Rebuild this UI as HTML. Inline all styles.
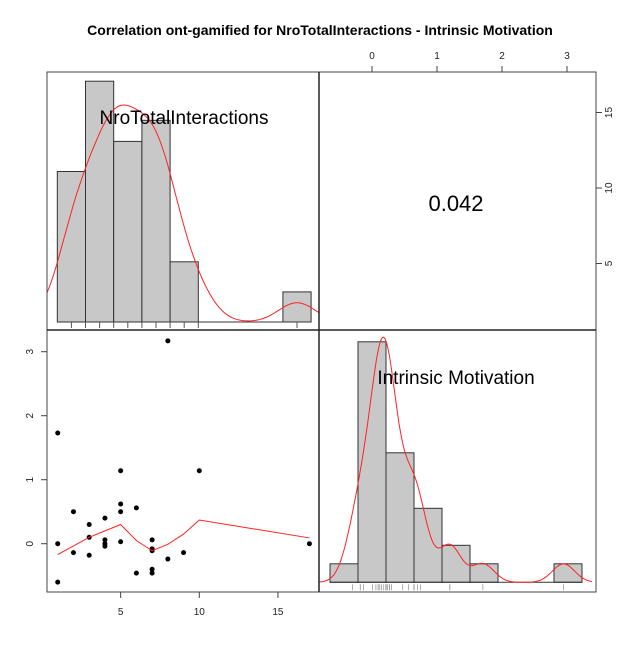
<!DOCTYPE html>
<html><head><meta charset="utf-8"><style>body{margin:0;background:#fff}svg{font-family:"Liberation Sans",Arial,sans-serif}</style></head>
<body>
<svg id="c" width="640" height="640" xmlns="http://www.w3.org/2000/svg">
<text x="320" y="35" text-anchor="middle" font-size="14" font-weight="bold">Correlation ont-gamified for NroTotalInteractions - Intrinsic Motivation</text>
</svg>
<script>
const xVals=[1,1,1,2,2,3,3,3,4,4,4,4,5,5,5,5,6,6,7,7,7,7,7,8,8,9,10,17];
const yVals=[1.73,0,-0.6,0.5,-0.14,0.3,0.1,-0.18,0.4,0.06,0,-0.04,1.14,0.62,0.5,0.03,0.56,-0.46,0.06,-0.08,-0.11,-0.4,-0.46,3.17,-0.24,-0.14,1.14,0];
const smoothX=[1,3,4,5,6,7,8,9,10,17];
const smoothY=[-0.17,0.1,0.2,0.3,0.05,-0.11,-0.01,0.15,0.37,0.09];
const histXEdges=[0,2,4,6,8,10,12,14,16,18];
const histXCounts=[5,8,6,6.7,2,0,0,0,1];
const histYEdges=[-1,-0.5,0,0.5,1,1.5,2,2.5,3,3.5];
const histYCounts=[1,13,7,4,2,1,0,0,1];
const corrText="0.042";
const xTicks=[5,10,15], yTicks=[0,1,2,3], topTicks=[0,1,2,3], rightTicks=[5,10,15];

const svg=document.getElementById('c');const NS='http://www.w3.org/2000/svg';
function mk(t,a,p){const e=document.createElementNS(NS,t);for(const k in a)e.setAttribute(k,a[k]);(p||svg).appendChild(e);return e;}
const L=47,R=596,T=72,B=592,MX=319,MY=330;
const sx=v=>42+v*15.73, sy=v=>543.7-v*64;
const hx=v=>57.3+v*14.1, hy=c=>322-c*30.1;
const rx=v=>386+v*56, ry=c=>582.3-c*18.5;
const tx=v=>372+v*65, ty=v=>339-v*15.1;
const defs=mk('defs',{});
[['cTL',L,T,MX-L,MY-T],['cBL',L,MY,MX-L,B-MY],['cBR',MX,MY,R-MX,B-MY]].forEach(c=>{const cp=mk('clipPath',{id:c[0]},defs);mk('rect',{x:c[1],y:c[2],width:c[3],height:c[4]},cp);});
function kde(data,bw,x){let s=0;for(const d of data){const u=(x-d)/bw;s+=Math.exp(-u*u/2);}return s/(data.length*bw*Math.sqrt(2*Math.PI));}
function kdePath(data,bw,lo,hi,step,px,base,peakH){const pts=[];let mx=0;for(let v=lo;v<=hi;v+=step){const k=kde(data,bw,v);pts.push([v,k]);if(k>mx)mx=k;}return pts.map((p,i)=>(i?'L':'M')+px(p[0]).toFixed(1)+','+(base-p[1]/mx*peakH).toFixed(1)).join('');}
// top-left histogram
const gTL=mk('g',{'clip-path':'url(#cTL)'});
histXCounts.forEach((c,i)=>{if(c<=0)return;const r=mk('rect',{x:hx(histXEdges[i]),y:hy(c),width:hx(histXEdges[i+1])-hx(histXEdges[i]),height:hy(0)-hy(c),fill:'#c8c8c8',stroke:'#333','stroke-width':1},gTL);});
mk('line',{x1:hx(0),x2:hx(18),y1:hy(0),y2:hy(0),stroke:'#333'},gTL);
const k1=mk('path',{d:kdePath(xVals,1.3,-1.5,19.5,0.1,hx,hy(0),217),fill:'none',stroke:'#f22','stroke-width':1},gTL);
[...new Set(xVals)].forEach(v=>{mk('line',{x1:hx(v),x2:hx(v),y1:hy(0),y2:hy(0)+6,stroke:'#555'},gTL);});
const t1=mk('text',{x:184,y:124,'text-anchor':'middle','font-size':19},gTL);t1.textContent='NroTotalInteractions';
const ct=mk('text',{x:456,y:211,'text-anchor':'middle','font-size':22});ct.textContent=corrText;
// scatter
const gBL=mk('g',{'clip-path':'url(#cBL)'});
xVals.forEach((x,i)=>{const c=mk('circle',{cx:sx(x),cy:sy(yVals[i]),r:2.5,fill:'#000'},gBL);});
const sl=mk('polyline',{points:smoothX.map((x,i)=>sx(x)+','+sy(smoothY[i])).join(' '),fill:'none',stroke:'#f22','stroke-width':1},gBL);
// bottom-right histogram
const gBR=mk('g',{'clip-path':'url(#cBR)'});
histYCounts.forEach((c,i)=>{if(c<=0)return;const r=mk('rect',{x:rx(histYEdges[i]),y:ry(c),width:rx(histYEdges[i+1])-rx(histYEdges[i]),height:ry(0)-ry(c),fill:'#c8c8c8',stroke:'#333','stroke-width':1},gBR);});
mk('line',{x1:rx(-1),x2:rx(3.5),y1:ry(0),y2:ry(0),stroke:'#333'},gBR);
const k2=mk('path',{d:kdePath(yVals,0.2,-1.2,3.7,0.02,rx,ry(0),245),fill:'none',stroke:'#f22','stroke-width':1},gBR);
yVals.forEach(v=>{mk('line',{x1:rx(v),x2:rx(v),y1:ry(0)+2,y2:ry(0)+8,stroke:'#777','stroke-width':0.6},gBR);});
const t2=mk('text',{x:456,y:384,'text-anchor':'middle','font-size':19},gBR);t2.textContent='Intrinsic Motivation';
// frames
mk('rect',{x:L,y:T,width:R-L,height:B-T,fill:'none',stroke:'#444','stroke-width':1});
mk('line',{x1:MX,x2:MX,y1:T,y2:B,stroke:'#222','stroke-width':1.5});
mk('line',{x1:L,x2:R,y1:MY,y2:MY,stroke:'#222','stroke-width':1.5});
function axText(x,y,s,rot,name){const e=mk('text',{x:x,y:y,'text-anchor':'middle','font-size':10,fill:'#222'});if(rot)e.setAttribute('transform','rotate(-90 '+x+' '+y+')');e.textContent=s;}
xTicks.forEach(v=>{mk('line',{x1:sx(v),x2:sx(v),y1:B,y2:B+6,stroke:'#444'});axText(sx(v),615,v,false,'x-tick-label');});
yTicks.forEach(v=>{mk('line',{x1:L-6,x2:L,y1:sy(v),y2:sy(v),stroke:'#444'});axText(33,sy(v),v,true,'y-tick-label');});
topTicks.forEach(v=>{mk('line',{x1:tx(v),x2:tx(v),y1:T-6,y2:T,stroke:'#444'});axText(tx(v),59,v,false,'top-tick-label');});
rightTicks.forEach(v=>{mk('line',{x1:R,x2:R+6,y1:ty(v),y2:ty(v),stroke:'#444'});axText(612,ty(v),v,true,'right-tick-label');});
</script>
</body></html>
